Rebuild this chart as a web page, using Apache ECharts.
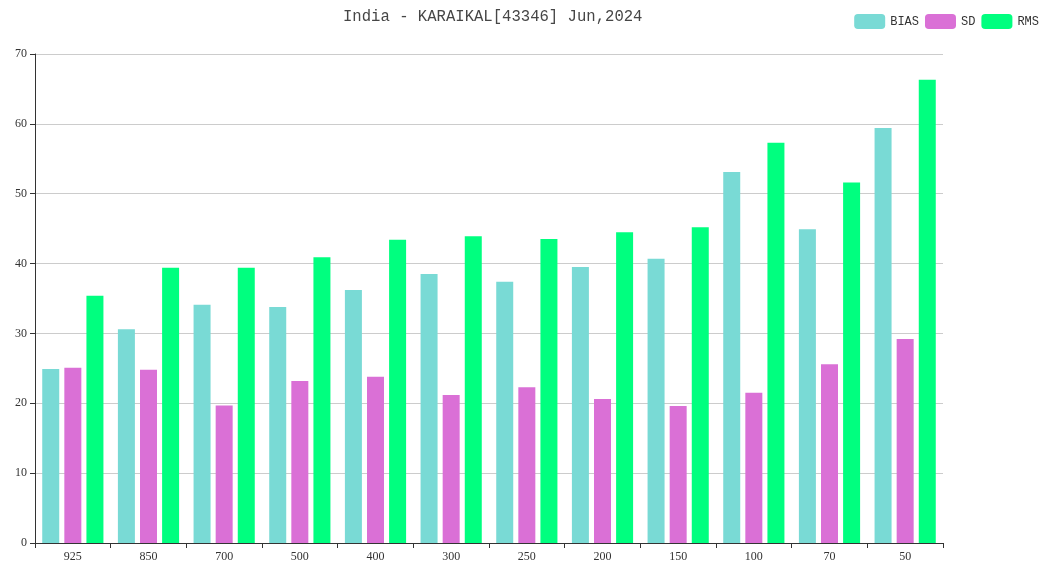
<!DOCTYPE html>
<html>
<head>
<meta charset="utf-8">
<script src="https://cdn.jsdelivr.net/npm/echarts@6/dist/echarts.min.js"></script>
<style>
html,body{margin:0;padding:0;background:#fff;}
#chart1{width:1052px;height:565px;}
</style>
</head>
<body>
<div id="chart1"></div>
<script>
// 气压层
var levels = ['925', '850', '700', '500', '400', '300', '250', '200', '150', '100', '70', '50'];
var biasData = [24.9, 30.6, 34.1, 33.8, 36.2, 38.5, 37.4, 39.5, 40.7, 53.1, 44.9, 59.4];
var sdData = [25.1, 24.8, 19.7, 23.2, 23.8, 21.2, 22.3, 20.6, 19.6, 21.5, 25.6, 29.2];
var rmsData = [35.4, 39.4, 39.4, 40.9, 43.4, 43.9, 43.5, 44.5, 45.2, 57.3, 51.6, 66.3];
var seriesNames = ['BIAS', 'SD', 'RMS'];

var chart = echarts.init(document.getElementById('chart1'));
var labelFont = 'Liberation Serif';

var option = {
    animation: false,
    color: ['#79dad5', '#da70d6', '#00ff7f'],
    title: {
        text: 'India - KARAIKAL[43346] Jun,2024',
        left: 338,
        top: 4,
        textStyle: {
            fontFamily: 'Liberation Mono',
            fontSize: 15.6,
            fontWeight: 'normal',
            color: '#464646'
        }
    },
    legend: {
        data: seriesNames,
        right: 8,
        top: 9,
        itemWidth: 31,
        itemHeight: 15,
        itemGap: 6,
        textStyle: {
            fontFamily: 'Liberation Mono',
            fontSize: 12,
            color: '#333'
        }
    },
    grid: {
        left: 35,
        right: 109,
        top: 54,
        bottom: 22
    },
    xAxis: {
        type: 'category',
        data: levels,
        axisLine: {lineStyle: {color: '#333'}},
        axisTick: {show: true, alignWithLabel: false},
        axisLabel: {fontFamily: labelFont, fontSize: 12, color: '#333', margin: 8}
    },
    yAxis: {
        type: 'value',
        min: 0,
        max: 70,
        interval: 10,
        axisLine: {show: true, lineStyle: {color: '#333'}},
        axisTick: {show: true},
        axisLabel: {fontFamily: labelFont, fontSize: 12, color: '#333'},
        splitLine: {lineStyle: {color: '#ccc'}}
    },
    series: [
        {name: seriesNames[0], type: 'bar', barWidth: 17, barGap: '30%', data: biasData},
        {name: seriesNames[1], type: 'bar', barWidth: 17, barGap: '30%', data: sdData},
        {name: seriesNames[2], type: 'bar', barWidth: 17, barGap: '30%', data: rmsData}
    ]
};
chart.setOption(option);
</script>
</body>
</html>
